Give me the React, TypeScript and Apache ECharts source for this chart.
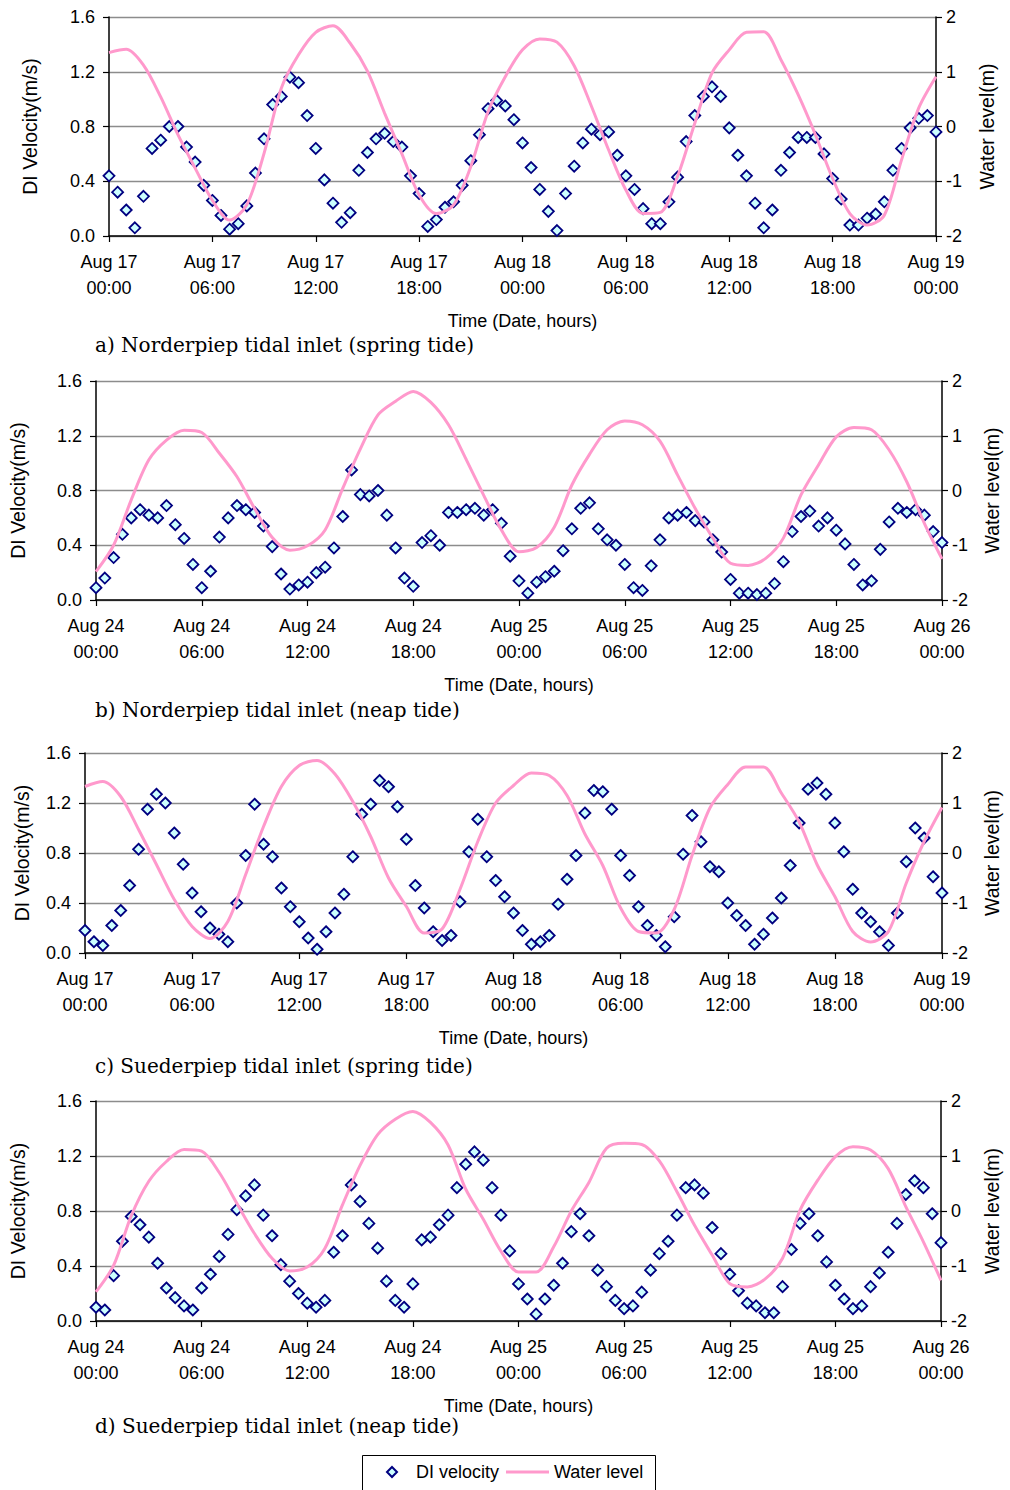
import React, { useEffect, useRef } from "react";
import * as echarts from "echarts";

// ---------- tick labels ----------
const X_TICKS_AC = ["Aug 17\n00:00", "Aug 17\n06:00", "Aug 17\n12:00", "Aug 17\n18:00", "Aug 18\n00:00", "Aug 18\n06:00", "Aug 18\n12:00", "Aug 18\n18:00", "Aug 19\n00:00"];
const X_TICKS_BD = ["Aug 24\n00:00", "Aug 24\n06:00", "Aug 24\n12:00", "Aug 24\n18:00", "Aug 25\n00:00", "Aug 25\n06:00", "Aug 25\n12:00", "Aug 25\n18:00", "Aug 26\n00:00"];

const CAPTIONS = [
  "a) Norderpiep tidal inlet (spring tide)",
  "b) Norderpiep tidal inlet (neap tide)",
  "c) Suederpiep tidal inlet (spring tide)",
  "d) Suederpiep tidal inlet (neap tide)",
];

// ---------- DI velocity (m/s), every half hour from 00:00 (97 values) ----------
const velA = [
  0.44, 0.32, 0.19, 0.06, 0.29, 0.64, 0.70, 0.80, 0.80, 0.65,
  0.54, 0.37, 0.26, 0.15, 0.05, 0.09, 0.22, 0.46, 0.71, 0.96,
  1.02, 1.16, 1.12, 0.88, 0.64, 0.41, 0.24, 0.10, 0.17, 0.48,
  0.61, 0.71, 0.75, 0.69, 0.65, 0.44, 0.31, 0.07, 0.12, 0.21,
  0.25, 0.37, 0.55, 0.74, 0.93, 0.99, 0.95, 0.85, 0.68, 0.50,
  0.34, 0.18, 0.04, 0.31, 0.51, 0.68, 0.78, 0.74, 0.76, 0.59,
  0.44, 0.34, 0.20, 0.09, 0.09, 0.25, 0.43, 0.69, 0.88, 1.02,
  1.09, 1.02, 0.79, 0.59, 0.44, 0.24, 0.06, 0.19, 0.48, 0.61,
  0.72, 0.72, 0.72, 0.60, 0.42, 0.27, 0.08, 0.08, 0.13, 0.16,
  0.25, 0.48, 0.64, 0.79, 0.86, 0.88, 0.76,
];
const velB = [
  0.09, 0.16, 0.31, 0.48, 0.60, 0.66, 0.62, 0.60, 0.69, 0.55,
  0.45, 0.26, 0.09, 0.21, 0.46, 0.60, 0.69, 0.66, 0.64, 0.54,
  0.39, 0.19, 0.08, 0.11, 0.13, 0.20, 0.24, 0.38, 0.61, 0.95,
  0.77, 0.76, 0.80, 0.62, 0.38, 0.16, 0.10, 0.42, 0.47, 0.40,
  0.64, 0.64, 0.66, 0.67, 0.62, 0.66, 0.56, 0.32, 0.14, 0.05,
  0.13, 0.17, 0.21, 0.36, 0.52, 0.67, 0.71, 0.52, 0.44, 0.40,
  0.26, 0.09, 0.07, 0.25, 0.44, 0.60, 0.62, 0.64, 0.58, 0.57,
  0.44, 0.35, 0.15, 0.05, 0.05, 0.04, 0.05, 0.12, 0.28, 0.50,
  0.61, 0.65, 0.54, 0.60, 0.51, 0.41, 0.26, 0.11, 0.14, 0.37,
  0.57, 0.67, 0.64, 0.66, 0.62, 0.50, 0.42,
];
const velC = [
  0.18, 0.09, 0.06, 0.22, 0.34, 0.54, 0.83, 1.15, 1.27, 1.20,
  0.96, 0.71, 0.48, 0.33, 0.20, 0.15, 0.09, 0.40, 0.78, 1.19,
  0.87, 0.77, 0.52, 0.37, 0.25, 0.12, 0.03, 0.17, 0.32, 0.47,
  0.77, 1.11, 1.19, 1.38, 1.33, 1.17, 0.91, 0.54, 0.36, 0.17,
  0.10, 0.14, 0.41, 0.81, 1.07, 0.77, 0.58, 0.45, 0.32, 0.18,
  0.07, 0.09, 0.14, 0.39, 0.59, 0.78, 1.12, 1.30, 1.29, 1.15,
  0.78, 0.62, 0.37, 0.22, 0.14, 0.05, 0.29, 0.79, 1.10, 0.89,
  0.69, 0.65, 0.40, 0.30, 0.22, 0.07, 0.15, 0.28, 0.44, 0.70,
  1.04, 1.31, 1.36, 1.27, 1.04, 0.81, 0.51, 0.32, 0.25, 0.17,
  0.06, 0.32, 0.73, 1.00, 0.92, 0.61, 0.48,
];
const velD = [
  0.10, 0.08, 0.33, 0.58, 0.76, 0.70, 0.61, 0.42, 0.24, 0.17,
  0.11, 0.08, 0.24, 0.34, 0.47, 0.63, 0.81, 0.91, 0.99, 0.77,
  0.62, 0.41, 0.29, 0.20, 0.13, 0.10, 0.15, 0.50, 0.62, 0.99,
  0.87, 0.71, 0.53, 0.29, 0.15, 0.10, 0.27, 0.59, 0.61, 0.70,
  0.77, 0.97, 1.14, 1.23, 1.17, 0.97, 0.77, 0.51, 0.27, 0.16,
  0.05, 0.16, 0.26, 0.42, 0.65, 0.78, 0.62, 0.37, 0.25, 0.15,
  0.09, 0.11, 0.21, 0.37, 0.49, 0.58, 0.77, 0.97, 0.99, 0.93,
  0.68, 0.49, 0.34, 0.22, 0.13, 0.11, 0.06, 0.06, 0.25, 0.52,
  0.71, 0.78, 0.62, 0.43, 0.26, 0.16, 0.09, 0.11, 0.25, 0.35,
  0.50, 0.71, 0.92, 1.02, 0.97, 0.78, 0.57,
];

// ---------- Water level (m), hourly from 00:00 (49 values) ----------
const wlA = [
  1.35, 1.41, 1.12, 0.54, -0.15, -0.76, -1.35, -1.71, -1.43, -0.49,
  0.70, 1.31, 1.72, 1.84, 1.52, 1.01, 0.24, -0.50, -1.25, -1.59,
  -1.43, -0.73, 0.27, 0.91, 1.40, 1.60, 1.54, 1.11, 0.37, -0.43,
  -1.16, -1.59, -1.57, -0.91, 0.06, 0.98, 1.40, 1.72, 1.73, 1.22,
  0.58, -0.15, -0.95, -1.59, -1.80, -1.62, -0.61, 0.34, 0.91,
];
const wlB = [
  -1.48, -1.00, -0.17, 0.56, 0.92, 1.10, 1.06, 0.68, 0.25, -0.33,
  -0.86, -1.09, -1.01, -0.72, 0.04, 0.76, 1.38, 1.63, 1.81, 1.61,
  1.20, 0.57, -0.09, -0.72, -1.12, -1.04, -0.67, 0.10, 0.66, 1.11,
  1.27, 1.20, 0.90, 0.28, -0.33, -0.87, -1.33, -1.37, -1.24, -0.87,
  -0.08, 0.47, 0.98, 1.15, 1.11, 0.74, 0.16, -0.60, -1.25,
];
const wlC = [
  1.33, 1.43, 1.13, 0.47, -0.23, -0.93, -1.47, -1.71, -1.37, -0.43,
  0.53, 1.33, 1.75, 1.85, 1.58, 1.03, 0.33, -0.50, -1.07, -1.60,
  -1.52, -0.73, 0.23, 1.00, 1.35, 1.60, 1.55, 1.15, 0.38, -0.25,
  -1.10, -1.57, -1.60, -1.13, -0.05, 0.90, 1.37, 1.72, 1.72, 1.20,
  0.62, -0.23, -0.87, -1.57, -1.78, -1.57, -0.60, 0.23, 0.91,
];
const wlD = [
  -1.47, -0.99, -0.09, 0.54, 0.90, 1.12, 1.09, 0.70, 0.14, -0.41,
  -0.86, -1.09, -1.02, -0.68, 0.11, 0.83, 1.39, 1.67, 1.81, 1.61,
  1.20, 0.40, -0.15, -0.73, -1.11, -1.11, -0.65, 0.00, 0.52, 1.14,
  1.23, 1.21, 0.91, 0.35, -0.26, -0.80, -1.32, -1.38, -1.24, -0.86,
  0.02, 0.56, 0.99, 1.17, 1.11, 0.77, 0.08, -0.56, -1.26,
];

const SANS = "'Liberation Sans', Arial, sans-serif";
const SERIF = "'DejaVu Serif', serif";

// layout of each panel (pixels)
const PANELS = [
  { vel: velA, wl: wlA, ticks: X_TICKS_AC, left: 109, width: 827, top: 17, height: 219, nameGapL: 69, nameGapR: 41, capTop: 335 },
  { vel: velB, wl: wlB, ticks: X_TICKS_BD, left: 96, width: 854, top: 381, height: 219, nameGapL: 68, nameGapR: 40, capTop: 700 },
  { vel: velC, wl: wlC, ticks: X_TICKS_AC, left: 85, width: 858, top: 753, height: 200, nameGapL: 53, nameGapR: 40, capTop: 1056 },
  { vel: velD, wl: wlD, ticks: X_TICKS_BD, left: 96, width: 850, top: 1101, height: 220, nameGapL: 68, nameGapR: 41, capTop: 1416 },
];

function buildOption() {
  const grid: any[] = [];
  const xAxis: any[] = [];
  const yAxis: any[] = [];
  const series: any[] = [];
  const title: any[] = [];

  PANELS.forEach((p, i) => {
    grid.push({ left: p.left, top: p.top, width: p.width, height: p.height, containLabel: false });
    xAxis.push({
      type: "value",
      gridIndex: i,
      min: 0,
      max: 48,
      interval: 6,
      name: "Time (Date, hours)",
      nameLocation: "middle",
      nameGap: 76,
      nameTextStyle: { fontFamily: SANS, fontSize: 18, color: "#000" },
      axisLine: { show: true, onZero: false, lineStyle: { color: "#000", width: 1.5 } },
      axisTick: { show: true, length: 6, lineStyle: { color: "#000", width: 1.2 } },
      axisLabel: {
        margin: 13,
        fontFamily: SANS,
        fontSize: 18,
        lineHeight: 26,
        color: "#000",
        formatter: (v: number) => p.ticks[Math.round(v / 6)] ?? "",
      },
      splitLine: { show: false },
    });
    yAxis.push({
      type: "value",
      gridIndex: i,
      position: "left",
      min: 0,
      max: 1.6,
      interval: 0.4,
      name: "DI Velocity(m/s)",
      nameLocation: "middle",
      nameRotate: 90,
      nameGap: p.nameGapL,
      nameTextStyle: { fontFamily: SANS, fontSize: 19.5, color: "#000" },
      axisLine: { show: true, onZero: false, lineStyle: { color: "#000", width: 1.5 } },
      axisTick: { show: true, length: 6, lineStyle: { color: "#000", width: 1.2 } },
      axisLabel: {
        margin: 14,
        fontFamily: SANS,
        fontSize: 18,
        color: "#000",
        formatter: (v: number) => v.toFixed(1),
      },
      splitLine: { show: true, lineStyle: { color: "#8c8c8c", width: 1.3 } },
    });
    yAxis.push({
      type: "value",
      gridIndex: i,
      position: "right",
      min: -2,
      max: 2,
      interval: 1,
      name: "Water level(m)",
      nameLocation: "middle",
      nameRotate: 90,
      nameGap: p.nameGapR,
      nameTextStyle: { fontFamily: SANS, fontSize: 19.5, color: "#000" },
      axisLine: { show: true, onZero: false, lineStyle: { color: "#000", width: 1.5 } },
      axisTick: { show: true, length: 6, lineStyle: { color: "#000", width: 1.2 } },
      axisLabel: { margin: 10, fontFamily: SANS, fontSize: 18, color: "#000" },
      splitLine: { show: false },
    });
    series.push({
      type: "scatter",
      name: "DI velocity",
      xAxisIndex: i,
      yAxisIndex: 2 * i,
      symbol: "diamond",
      symbolSize: 11,
      itemStyle: { color: "#ccffff", borderColor: "#000080", borderWidth: 1.8, opacity: 1 },
      data: p.vel.map((v, k) => [k * 0.5, v]),
      z: 2,
    });
    series.push({
      type: "line",
      name: "Water level",
      xAxisIndex: i,
      yAxisIndex: 2 * i + 1,
      symbol: "none",
      showSymbol: false,
      smooth: 0.3,
      clip: true,
      lineStyle: { color: "#ff99cc", width: 3 },
      itemStyle: { color: "#ff99cc" },
      data: p.wl.map((v, k) => [k, v]),
      z: 3,
    });
    title.push({
      text: CAPTIONS[i],
      left: 95,
      top: p.capTop,
      padding: 0,
      textStyle: { fontFamily: SERIF, fontSize: 20, fontWeight: "normal", color: "#000" },
    });
  });

  return {
    animation: false,
    backgroundColor: "#fff",
    title,
    grid,
    xAxis,
    yAxis,
    series,
    legend: [
      {
        left: 386,
        top: 1463,
        padding: 0,
        itemWidth: 10,
        itemHeight: 10,
        data: [{ name: "DI velocity", icon: "diamond" }],
        textStyle: { fontFamily: SANS, fontSize: 18, color: "#000", padding: [0, 0, 0, 14] },
        selectedMode: false,
      },
      {
        left: 506,
        top: 1463,
        padding: 0,
        itemWidth: 43,
        itemHeight: 3,
        data: [{ name: "Water level", icon: "rect" }],
        textStyle: { fontFamily: SANS, fontSize: 18, color: "#000" },
        selectedMode: false,
      },
    ],
    graphic: [
      {
        type: "rect",
        silent: true,
        shape: { x: 362.5, y: 1455.5, width: 293, height: 60 },
        style: { fill: "none", stroke: "#000", lineWidth: 1 },
      },
    ],
  };
}

export default function App() {
  const ref = useRef<HTMLDivElement>(null);
  useEffect(() => {
    if (!ref.current) return;
    const chart = echarts.init(ref.current, undefined, { renderer: "svg" });
    chart.setOption(buildOption() as any);
    return () => chart.dispose();
  }, []);
  return (
    <div
      ref={ref}
      style={{ position: "absolute", left: 0, top: 0, width: 1010, height: 1490, background: "#fff" }}
    />
  );
}
